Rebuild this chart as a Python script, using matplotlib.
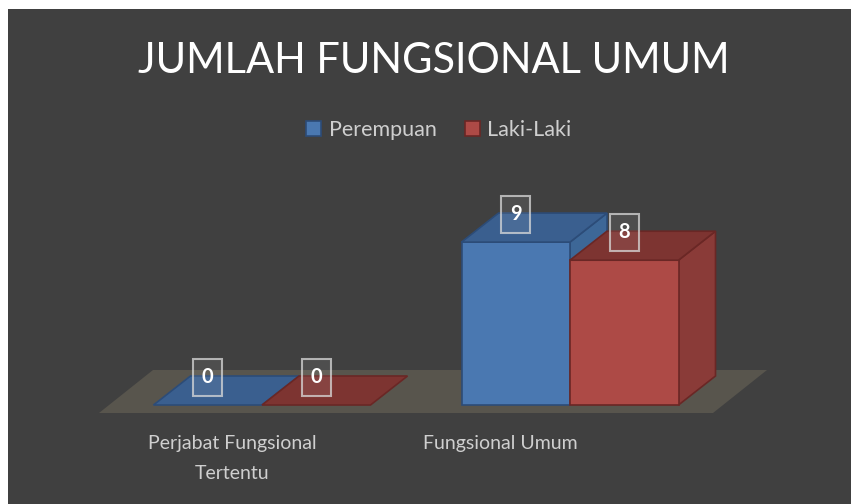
import matplotlib.pyplot as plt
from matplotlib.patches import Polygon, Patch

# data
categories = ['Perjabat Fungsional\nTertentu', 'Fungsional Umum']
series = ['Perempuan', 'Laki-Laki']
perempuan = [0, 9]
laki_laki = [0, 8]

bg = '#404040'
colors = {
    'Perempuan': dict(front='#4a78b1', top='#3a5f8f', side='#3d6797', edge='#2c4c78'),
    'Laki-Laki': dict(front='#ad4a46', top='#7d3431', side='#8a3b38', edge='#6a2725'),
}

W, H = 851, 504
fig = plt.figure(figsize=(W / 100, H / 100), dpi=100)
fig.patch.set_facecolor('white')
ax = fig.add_axes([8 / W, 0, (W - 8) / W, (H - 9) / H])
ax.set_facecolor(bg)

# one category = 308 px, one unit of value = 18.1 px
xpx, ypx = 308.0, 18.1
ax.set_xlim((8 - 262) / xpx, (851 - 262) / xpx)
ax.set_ylim((405 - 504) / ypx, (405 - 9) / ypx)
for s in ax.spines.values():
    s.set_visible(False)
ax.set_xticks([])
ax.set_yticks([])

bw = 108.5 / xpx          # bar width
ddx, ddy = 37 / xpx, 29 / ypx   # depth offset of bars

# floor
fl, fr, fy = (99 - 262) / xpx, (713 - 262) / xpx, (405 - 413) / ypx
fdx, fdy = 54 / xpx, 43 / ypx
ax.add_patch(Polygon([(fl, fy), (fr, fy), (fr + fdx, fy + fdy), (fl + fdx, fy + fdy)],
                     closed=True, facecolor='#58554d', edgecolor='none', zorder=1))


def bar3d(x0, v, c):
    x1 = x0 + bw
    top = [(x0, v), (x1, v), (x1 + ddx, v + ddy), (x0 + ddx, v + ddy)]
    side = [(x1, 0), (x1 + ddx, ddy), (x1 + ddx, v + ddy), (x1, v)]
    front = [(x0, 0), (x1, 0), (x1, v), (x0, v)]
    kw = dict(closed=True, edgecolor=c['edge'], linewidth=1.2, zorder=2)
    if v > 0:
        ax.add_patch(Polygon(side, facecolor=c['side'], **kw))
        ax.add_patch(Polygon(front, facecolor=c['front'], **kw))
        ax.add_patch(Polygon(top, facecolor=c['top'], **kw))
    else:
        ax.add_patch(Polygon(top, facecolor=c['top'], **kw))


for i in range(len(categories)):
    for j, (name, vals) in enumerate(zip(series, [perempuan, laki_laki])):
        x0 = i - bw + j * bw
        bar3d(x0, vals[i], colors[name])
        ax.annotate(str(vals[i]), (x0 + bw / 2, vals[i]), xytext=(0, 20),
                    textcoords='offset points', ha='center', va='center',
                    color='white', fontsize=14.5, fontweight='bold', family='Lato',
                    zorder=5,
                    bbox=dict(boxstyle='square,pad=0.42', facecolor=(1, 1, 1, 0.08),
                              edgecolor=(0.85, 0.85, 0.85, 0.75), linewidth=1.5))

# category labels
for i, lab in enumerate(categories):
    ax.text((232 - 262) / xpx + i * 268 / xpx, (405 - 435) / ypx, lab,
            ha='center', va='top', color='#cfcfcf', fontsize=14, family='Lato',
            linespacing=1.95)

fig.text(434 / W, 1 - 61 / H, 'JUMLAH FUNGSIONAL UMUM', ha='center', va='center',
         color='white', fontsize=30, family='Lato')

handles = [Patch(facecolor=colors[n]['front'], edgecolor=colors[n]['edge'], linewidth=1.2)
           for n in series]
leg = fig.legend(handles, series, loc='center', bbox_to_anchor=(439 / W, 1 - 130 / H),
                 ncol=2, frameon=False, handlelength=0.7, handleheight=0.7,
                 handletextpad=0.35, columnspacing=1.3,
                 prop=dict(family='Lato', size=15.5))
for t in leg.get_texts():
    t.set_color('#cfcfcf')

fig.savefig('out.png', dpi=100, facecolor=fig.get_facecolor())
